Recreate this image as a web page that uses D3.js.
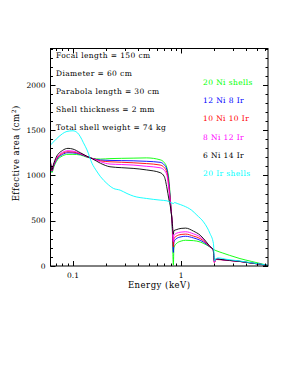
<!DOCTYPE html>
<html>
<head>
<meta charset="utf-8">
<script src="https://cdn.jsdelivr.net/npm/d3@7"></script>
<style>
body { margin: 0; background: #fff; }
text { font-family: "DejaVu Serif", serif; font-size: 7.5px; fill: #000; }
.note, .legend { letter-spacing: 0.4px; }
.title { font-size: 8.5px; letter-spacing: 0.5px; }
</style>
</head>
<body>
<svg id="chart" width="285" height="382"></svg>
<script>
// energies (keV) shared by the Ni / Ir mix series
var energy = [0.062, 0.064, 0.066, 0.07, 0.08, 0.09, 0.1, 0.117, 0.135, 0.15, 0.18, 0.22, 0.28, 0.36, 0.48, 0.64, 0.70, 0.74, 0.77, 0.80, 0.83, 0.848, 0.858, 0.9, 1.0, 1.1, 1.3, 1.5, 1.7, 1.85, 1.98, 2.03, 2.1, 2.4, 2.8, 3.5, 4.5, 5.5, 6.36];

var ni20 = [1120, 1030, 1080, 1150, 1215, 1232, 1232, 1225, 1200, 1188, 1180, 1185, 1188, 1190, 1193, 1172, 1140, 1080, 960, 700, 380, 10, 200, 245, 275, 284, 280, 265, 235, 210, 185, 178, 170, 145, 118, 82, 50, 25, 5];
var ni12ir8 = [1130, 1045, 1095, 1165, 1230, 1250, 1248, 1232, 1205, 1188, 1169, 1165, 1163, 1161, 1155, 1144, 1115, 1060, 920, 690, 420, 150, 265, 300, 322, 328, 310, 284, 245, 210, 182, 45, 78, 70, 62, 52, 33, 18, 5];
var ni10ir10 = [1138, 1050, 1105, 1175, 1243, 1261, 1258, 1238, 1207, 1188, 1160, 1150, 1145, 1139, 1130, 1114, 1085, 1030, 890, 680, 440, 210, 300, 328, 348, 352, 330, 303, 255, 212, 182, 38, 72, 68, 60, 50, 32, 18, 5];
var ni8ir12 = [1145, 1055, 1112, 1185, 1255, 1272, 1268, 1243, 1208, 1187, 1150, 1125, 1120, 1114, 1100, 1084, 1055, 1000, 850, 665, 455, 270, 335, 360, 374, 378, 355, 321, 262, 214, 181, 40, 75, 69, 61, 50, 32, 18, 5];
var ni6ir14 = [1150, 1060, 1120, 1200, 1275, 1298, 1290, 1250, 1210, 1185, 1133, 1095, 1085, 1077, 1060, 1030, 985, 860, 740, 640, 470, 350, 390, 400, 415, 418, 385, 340, 270, 215, 180, 60, 78, 70, 62, 50, 32, 18, 5];

var irEnergy = [0.062, 0.07, 0.08, 0.088, 0.1, 0.11, 0.117, 0.125, 0.135, 0.15, 0.165, 0.18, 0.206, 0.237, 0.273, 0.316, 0.363, 0.48, 0.64, 0.74, 0.80, 0.85, 0.87, 0.92, 1.05, 1.25, 1.40, 1.61, 1.75, 1.85, 1.99, 2.04, 2.1, 2.21, 2.6, 3.5, 4.5, 5.5, 6.36];
var ir20 = [1335, 1400, 1460, 1485, 1492, 1470, 1427, 1360, 1280, 1133, 1050, 985, 911, 856, 837, 800, 771, 745, 727, 719, 700, 690, 700, 690, 665, 616, 561, 487, 420, 358, 248, 55, 80, 90, 75, 55, 35, 20, 8];

var seriesNames = ['20 Ni shells', '12 Ni 8 Ir', '10 Ni 10 Ir', '8 Ni 12 Ir', '6 Ni 14 Ir', '20 Ir shells'];
var seriesColors = ['#00ff00', '#0000ff', '#ff0000', '#ff00ff', '#000000', '#00ffff'];

var notes = ['Focal length = 150 cm', 'Diameter = 60 cm', 'Parabola length = 30 cm', 'Shell thickness = 2 mm', 'Total shell weight = 74 kg'];

var xMajor = [0.1, 1];
var xLabels = ['0.1', '1'];
var xMinor = [0.07, 0.08, 0.09, 0.2, 0.3, 0.4, 0.5, 0.6, 0.7, 0.8, 0.9, 2, 3, 4, 5, 6];
var yMajor = [0, 500, 1000, 1500, 2000];

var margin = { left: 50.5, top: 48.5, right: 17, bottom: 116 };
var width = 285, height = 382;

var svg = d3.select('#chart');

var x = d3.scaleLog().domain([0.062, 6.36]).range([margin.left, width - margin.right]);
var y = d3.scaleLinear().domain([0, 2400]).range([height - margin.bottom, margin.top]);

var x0 = x.range()[0], x1 = x.range()[1], y0 = y.range()[0], y1 = y.range()[1];

var plot = svg.append('g');

// curves
var line = d3.line()
    .x(function (d) { return x(d[0]); })
    .y(function (d) { return y(d[1]); })
    .curve(d3.curveMonotoneX);

var series = [
    d3.zip(energy, ni20),
    d3.zip(energy, ni12ir8),
    d3.zip(energy, ni10ir10),
    d3.zip(energy, ni8ir12),
    d3.zip(energy, ni6ir14),
    d3.zip(irEnergy, ir20)
];

plot.selectAll('.curve').data(series).enter()
    .append('path')
    .attr('class', 'curve')
    .attr('d', line)
    .attr('fill', 'none')
    .attr('stroke', function (d, i) { return seriesColors[i]; })
    .attr('stroke-width', 0.9);

// frame and ticks (all sides, inward)
var axes = svg.append('g').attr('stroke', '#000').attr('stroke-width', 1).attr('fill', 'none');

axes.append('rect')
    .attr('x', x0).attr('y', y1)
    .attr('width', x1 - x0).attr('height', y0 - y1);

function xTicks(values, len) {
    values.forEach(function (v) {
        var px = Math.round(x(v)) + 0.5;
        axes.append('line').attr('x1', px).attr('x2', px).attr('y1', y0).attr('y2', y0 - len);
        axes.append('line').attr('x1', px).attr('x2', px).attr('y1', y1).attr('y2', y1 + len);
    });
}
xTicks(xMajor, 5);
xTicks(xMinor, 2.5);

var yMinor = d3.range(0, 2401, 100).filter(function (v) { return v % 500 !== 0; });
function yTicks(values, len) {
    values.forEach(function (v) {
        var py = Math.round(y(v)) + 0.5;
        axes.append('line').attr('x1', x0).attr('x2', x0 + len).attr('y1', py).attr('y2', py);
        axes.append('line').attr('x1', x1).attr('x2', x1 - len).attr('y1', py).attr('y2', py);
    });
}
yTicks(yMajor, 5);
yTicks(yMinor, 2.5);

// tick labels
svg.selectAll('.xlab').data(xMajor).enter()
    .append('text')
    .attr('x', function (d) { return x(d); })
    .attr('y', y0 + 12)
    .attr('text-anchor', 'middle')
    .text(function (d, i) { return xLabels[i]; });

svg.selectAll('.ylab').data(yMajor).enter()
    .append('text')
    .attr('x', x0 - 5)
    .attr('y', function (d) { return y(d) + 2.8; })
    .attr('text-anchor', 'end')
    .text(function (d) { return d; });

// axis titles
svg.append('text')
    .attr('class', 'title')
    .attr('x', (x0 + x1) / 2)
    .attr('y', 288)
    .attr('text-anchor', 'middle')
    .text('Energy (keV)');

var yt = svg.append('text')
    .attr('class', 'title')
    .attr('transform', 'translate(19,' + ((y0 + y1) / 2 - 4) + ') rotate(-90)')
    .attr('text-anchor', 'middle');
yt.append('tspan').text('Effective area (cm');
yt.append('tspan').attr('dy', -3.5).style('font-size', '6px').text('2');
yt.append('tspan').attr('dy', 3.5).text(')');

// notes top left
svg.selectAll('.note').data(notes).enter()
    .append('text')
    .attr('class', 'note')
    .attr('x', 56)
    .attr('y', function (d, i) { return 58 + i * 18; })
    .text(function (d) { return d; });

// legend
svg.selectAll('.legend').data(seriesNames).enter()
    .append('text')
    .attr('class', 'legend')
    .attr('x', 203)
    .attr('y', function (d, i) { return 85 + i * 18.2; })
    .style('fill', function (d, i) { return seriesColors[i]; })
    .text(function (d) { return d; });
</script>
</body>
</html>
